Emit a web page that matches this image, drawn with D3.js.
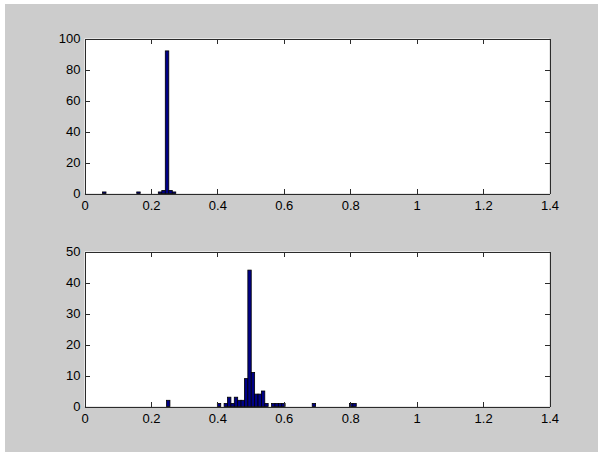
<!DOCTYPE html>
<html>
<head>
<meta charset="utf-8">
<script src="https://cdn.jsdelivr.net/npm/d3@7"></script>
<style>
  html, body { margin: 0; padding: 0; background: #fff; }
  svg { display: block; }
  .axis text { font-family: "Liberation Sans", Arial, sans-serif; font-size: 13px; fill: #000; }
  .axis line, .axis path { stroke: #2b2b2b; shape-rendering: crispEdges; }
</style>
</head>
<body>
<div id="chart"></div>
<script>
// histogram 1 (upper)
const topCenters = [0.0595, 0.1625, 0.2275, 0.2380, 0.2485, 0.2590, 0.2695]
const topCounts  = [1, 1, 1, 2, 92, 2, 1]
const topBinWidth = 0.0105
const topYTicks = [0, 20, 40, 60, 80, 100]

// histogram 2 (lower)
const bottomCenters = [0.2521, 0.4051, 0.4255, 0.4357, 0.4459, 0.4561, 0.4663, 0.4765, 0.4867, 0.4969,
  0.5071, 0.5173, 0.5275, 0.5377, 0.5479, 0.5683, 0.5785, 0.5887, 0.5989, 0.6907, 0.8029, 0.8131]
const bottomCounts  = [2, 1, 1, 3, 1, 3, 2, 2, 9, 44, 11, 4, 4, 5, 1, 1, 1, 1, 1, 1, 1, 1]
const bottomBinWidth = 0.0102
const bottomYTicks = [0, 10, 20, 30, 40, 50]

const xTicks = [0, 0.2, 0.4, 0.6, 0.8, 1, 1.2, 1.4]

const W = 598, H = 452

const svg = d3.select("#chart").append("svg").attr("width", W).attr("height", H)
svg.append("rect").attr("x", 5).attr("y", 4).attr("width", W - 5).attr("height", H - 4).attr("fill", "#cccccc")

function drawHist(dim, centers, counts, binW, yTicks) {
  const x = d3.scaleLinear().domain([0, 1.4]).range([0, dim.width])
  const y = d3.scaleLinear().domain([0, d3.max(yTicks)]).range([dim.height, 0])

  const g = svg.append("g").attr("transform", "translate(" + dim.ml + "," + dim.mt + ")")

  g.append("rect").attr("width", dim.width).attr("height", dim.height).attr("fill", "#fff")

  const bars = centers.map((c, i) => ({c: c, n: counts[i]}))
  g.selectAll("rect.bar").data(bars).enter().append("rect")
    .attr("class", "bar")
    .attr("x", d => x(d.c - binW / 2))
    .attr("width", d => x(d.c + binW / 2) - x(d.c - binW / 2))
    .attr("y", d => y(d.n))
    .attr("height", d => y(0) - y(d.n))
    .attr("fill", "#000085")
    .attr("stroke", "#000")
    .attr("stroke-width", 0.8)

  const fmt = d => String(d)

  g.append("g").attr("class", "axis")
    .attr("transform", "translate(0," + dim.height + ")")
    .call(d3.axisBottom(x).tickValues(xTicks).tickFormat(fmt).tickSizeInner(-5).tickSizeOuter(0).tickPadding(7))
  g.append("g").attr("class", "axis")
    .call(d3.axisTop(x).tickValues(xTicks).tickFormat("").tickSizeInner(-5).tickSizeOuter(0))
  g.append("g").attr("class", "axis")
    .call(d3.axisLeft(y).tickValues(yTicks).tickFormat(fmt).tickSizeInner(-5).tickSizeOuter(0).tickPadding(4))
  g.append("g").attr("class", "axis")
    .attr("transform", "translate(" + dim.width + ",0)")
    .call(d3.axisRight(y).tickValues(yTicks).tickFormat("").tickSizeInner(-5).tickSizeOuter(0))
}

drawHist({ml: 84.5, mt: 38.5, width: 465, height: 155}, topCenters, topCounts, topBinWidth, topYTicks)
drawHist({ml: 84.5, mt: 251.5, width: 465, height: 155}, bottomCenters, bottomCounts, bottomBinWidth, bottomYTicks)
</script>
</body>
</html>
